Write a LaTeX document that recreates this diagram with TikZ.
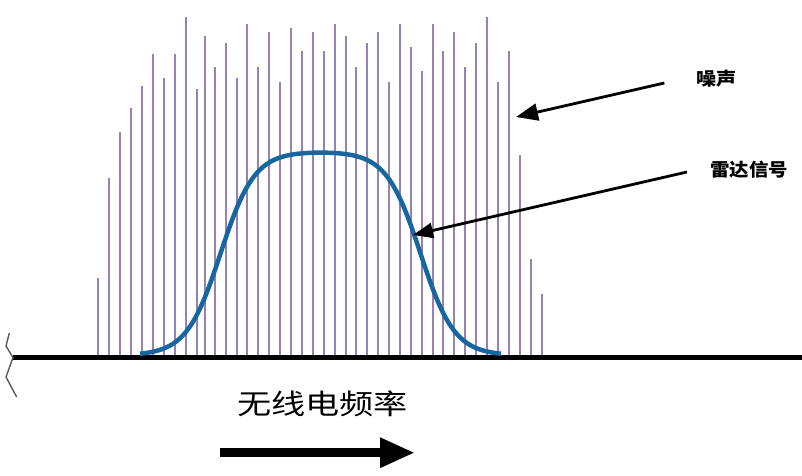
\documentclass[tikz,border=0pt]{standalone}
\usepackage{fontspec}
\usepackage{graphicx}
\newfontfamily\cjk{Noto Sans CJK SC}
\usetikzlibrary{arrows.meta}
\definecolor{noisepurple}{RGB}{150,130,176}
\definecolor{signalblue}{RGB}{24,102,160}
\definecolor{breakgray}{RGB}{90,90,90}

\begin{document}
\begin{tikzpicture}[x=1pt,y=-1pt,line join=round]
    \tikzstyle{noise line}=[draw=noisepurple, line width=2pt]
    \tikzstyle{signal curve}=[draw=signalblue, line width=4.5pt]
    \tikzstyle{axis}=[draw=black, line width=4.5pt]
    \tikzstyle{break mark}=[draw=breakgray, line width=1.4pt]
    \tikzstyle{pointer}=[draw=black, line width=2.8pt, -{Triangle[length=22pt,width=17pt]}]
    \tikzstyle{freq arrow}=[draw=black, line width=9pt, -{Triangle[length=35pt,width=28pt]}]
    \tikzstyle{annot}=[inner sep=0pt, font=\cjk\bfseries\fontsize{18}{18}\selectfont]

    \useasboundingbox (0,0) rectangle (802,475);

    % Draw the noise spikes (x position / top of the spike)
    \foreach \x / \h in {98.3/278, 109.3/178, 120/132, 131/108, 141.7/86,
        152.7/54, 163.7/78, 174.7/54, 185.7/17, 196.7/89, 205.3/36,
        214.5/67, 225.7/43, 236.5/78, 247.3/24, 258.3/67, 269.2/32, 280/82,
        290.7/28, 301.7/51, 312.7/32, 323.7/51, 334.7/24, 345.7/36,
        356.3/67, 367.3/43, 378.3/32, 389.3/82, 400/24, 411/47, 422/71,
        432.7/24, 443.3/51, 454.3/32, 465.3/67, 476/43, 487/17, 498/82,
        509/51, 520/155, 531/259, 541.7/294}
        \draw[noise line] (\x,357) -- (\x,\h);

    % Draw the frequency axis with its break mark
    \coordinate (axis-start) at (13,357.5);
    \coordinate (axis-end) at (802,357.5);
    \draw[axis] (axis-start) -- (axis-end);
    \draw[break mark] (9.3,333) -- (6,346) -- (axis-start) -- (6,377) -- (16.7,397);

    % Draw the radar signal (two logistic flanks)
    \draw[signal curve] plot[domain=140:501, samples=150, smooth]
        (\x, {355.5 - 204/((1+exp(-(\x-220.5)/17))*(1+exp((\x-420.5)/17)))});

    % Point at the noise and at the signal
    \node[annot] (noise) at (716.7,79) {\scalebox{1.12}[1]{噪声}};
    \node[annot] (radar) at (749,170) {\scalebox{1.08}[1]{雷达信号}};
    \coordinate (noise-tail) at ([xshift=-32pt,yshift=-4pt]noise.west);
    \coordinate (noise-tip) at (516,117);
    \coordinate (radar-tail) at ([xshift=-23pt,yshift=-2pt]radar.west);
    \coordinate (radar-tip) at (413,235);
    \draw[pointer] (noise-tail) -- (noise-tip);
    \draw[pointer, -{Triangle[length=20pt,width=15pt]}] (radar-tail) -- (radar-tip);

    % Annotate the frequency direction
    \node[inner sep=0pt, font=\cjk\fontsize{28}{28}\selectfont] (freq) at (322.5,404)
        {\scalebox{1.22}[1]{无线电频率}};
    \coordinate (freq-start) at (220,452.7);
    \coordinate (freq-end) at (415,452.7);
    \draw[freq arrow] (freq-start) -- (freq-end);
\end{tikzpicture}
\end{document}
